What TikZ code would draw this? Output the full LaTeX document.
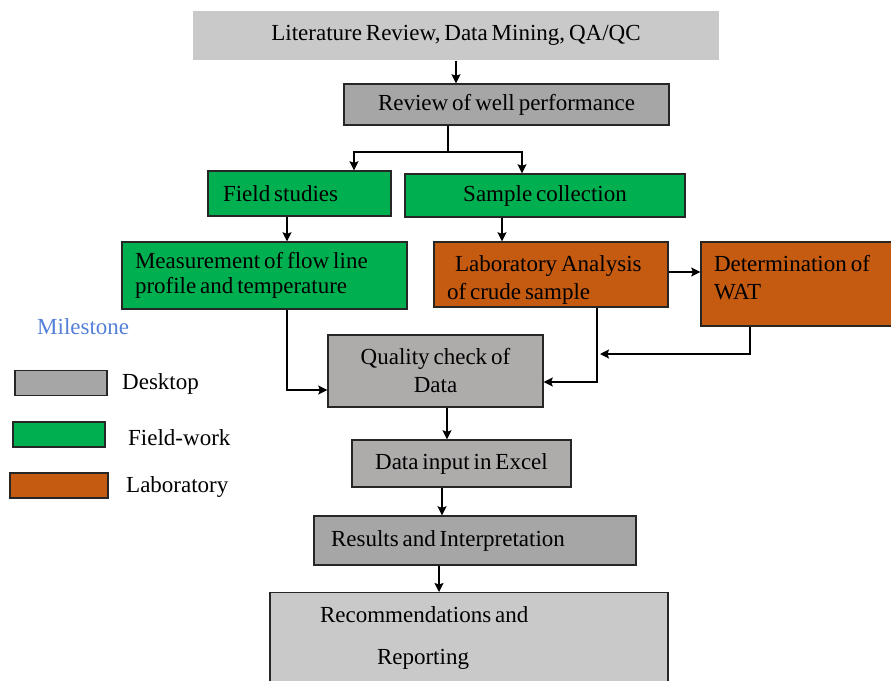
\documentclass[tikz,border=0pt]{standalone}
\usepackage{fontspec}
\setmainfont{Liberation Serif}
\usetikzlibrary{arrows.meta}

\definecolor{desklight}{HTML}{C9C9C9}
\definecolor{deskgray}{HTML}{A6A6A6}
\definecolor{deskwarm}{HTML}{AEABAB}
\definecolor{fieldgreen}{HTML}{00B050}
\definecolor{laborange}{HTML}{C55A11}
\definecolor{milestoneblue}{HTML}{5580D8}

\tikzset{
  stage/.style={draw=black!85, line width=1.4pt, inner ysep=0pt,
    font=\fontsize{23}{28}\selectfont,
    execute at begin node={\spaceskip=0.17em plus 0.05em\relax}},
  legendbox/.style={draw=black!85, line width=1.4pt, inner sep=0pt,
    minimum height=25pt},
  legendtxt/.style={anchor=west, inner sep=0pt, font=\fontsize{23}{28}\selectfont},
  flow/.style={line width=1.5pt, ->},
}

\begin{document}
\begin{tikzpicture}[x=1pt, y=-1pt, >={Stealth[length=9pt,width=9pt,inset=1.5pt]}]
  \useasboundingbox (0,0) rectangle (891,680);

  % Desktop stages
  \node[stage, draw=none, fill=desklight, minimum width=526pt, minimum height=49pt]
    (lit) at (456,35.5) {Literature Review, Data Mining, QA/QC};
  \node[stage, fill=deskgray, minimum width=325pt, minimum height=41pt]
    (review) at (506.5,104.5) {Review of well performance};

  % Field-work stages
  \node[stage, fill=fieldgreen, minimum width=183pt, minimum height=45pt,
    text width=153pt, inner xsep=15pt, align=left]
    (field) at (299.5,193.5) {Field studies};
  \node[stage, fill=fieldgreen, minimum width=280pt, minimum height=43pt]
    (sample) at (545,195.5) {Sample collection};
  \node[stage, fill=fieldgreen, minimum width=285pt, minimum height=67pt,
    text width=259pt, inner xsep=13pt, align=left]
    (measure) at (264.5,275.5) {Measurement of flow line\\[-3pt]profile and temperature};

  % Laboratory stages
  \node[stage, fill=laborange, minimum width=234pt, minimum height=65pt,
    text width=208pt, inner xsep=13pt, align=left, text depth=22pt]
    (lab) at (551,274.5) {\hspace*{8pt}Laboratory Analysis\\of crude sample};
  \node[stage, fill=laborange, minimum width=194pt, minimum height=84pt,
    text width=168pt, inner xsep=13pt, align=left, text depth=42pt]
    (wat) at (798,284) {Determination of\\WAT};

  % Desktop stages, lower half
  \node[stage, fill=deskwarm, minimum width=215pt, minimum height=72pt, align=center]
    (quality) at (435.5,371) {Quality check of\\Data};
  \node[stage, fill=deskwarm, minimum width=219pt, minimum height=47pt]
    (excel) at (461.5,463.5) {Data input in Excel};
  \node[stage, fill=deskgray, minimum width=322pt, minimum height=49pt,
    text width=288pt, inner xsep=17pt, align=left]
    (results) at (475,540.5) {Results and Interpretation};
  \node[stage, fill=desklight, anchor=north, minimum width=398pt, minimum height=120pt,
    text width=298pt, inner xsep=50pt, align=left, text depth=76pt]
    (report) at (469,592) {Recommendations and\\[14pt]\hspace*{57pt}Reporting};

  % Connectors
  \coordinate (fork) at (448,152);
  \coordinate (forkL) at (354,152);
  \coordinate (forkR) at (522,152);
  \coordinate (join) at (600,354);
  \draw[flow] (lit.south) -- (lit.south |- review.north);
  \draw[line width=1.5pt] ([xshift=-58.5pt]review.south) -- (fork);
  \draw[flow] (fork) -- (forkL) -- (forkL |- field.north);
  \draw[flow] (fork) -- (forkR) -- (forkR |- sample.north);
  \draw[flow] ([xshift=-12.5pt]field.south) -- ([xshift=22.5pt]measure.north);
  \draw[flow] ([xshift=-43pt]sample.south) -- ([xshift=-49pt]lab.north);
  \draw[flow] ([yshift=2.5pt]lab.east) -- ([yshift=2.5pt]lab.east -| wat.west);
  \draw[flow] ([xshift=-48pt]wat.south) |- (join);
  \draw[flow] ([xshift=46pt]lab.south) |- ([yshift=-11pt]quality.east);
  \draw[flow] ([xshift=22.5pt]measure.south) |- ([yshift=-19pt]quality.west);
  \draw[flow] ([xshift=11.5pt]quality.south) -- ([xshift=-14.5pt]excel.north);
  \draw[flow] ([xshift=-19.5pt]excel.south) -- ([xshift=-33pt]results.north);
  \draw[flow] ([xshift=-36pt]results.south) -- ([xshift=-30pt]report.north);

  % Legend
  \node[legendtxt, text=milestoneblue] (milestone) at (37,327) {Milestone};
  \node[legendbox, fill=deskgray, minimum width=92pt] (deskkey) at (61,383) {};
  \node[legendbox, fill=fieldgreen, minimum width=92pt] (fieldkey) at (59,434.5) {};
  \node[legendbox, fill=laborange, minimum width=98pt] (labkey) at (59,485.5) {};
  \node[legendtxt] (desktxt) at (122,384) {Desktop};
  \node[legendtxt] (fieldtxt) at (128,438) {Field-work};
  \node[legendtxt] (labtxt) at (126,487) {Laboratory};
\end{tikzpicture}
\end{document}
